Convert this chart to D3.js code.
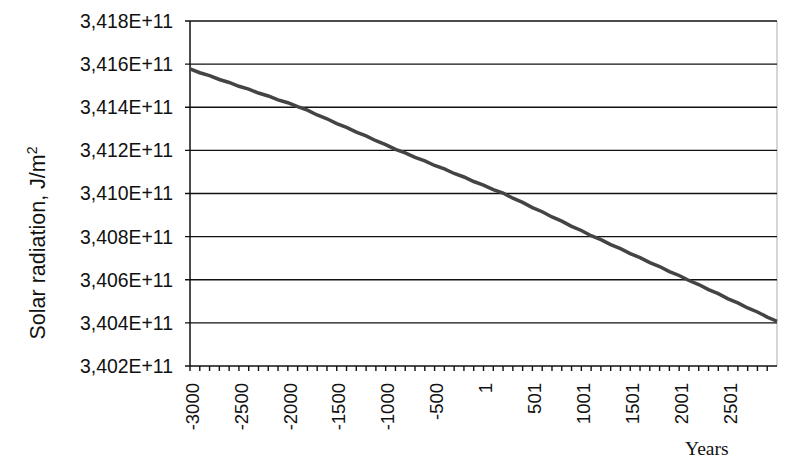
<!DOCTYPE html>
<html>
<head>
<meta charset="utf-8">
<script src="https://cdn.jsdelivr.net/npm/d3@7"></script>
<style>
  html, body { margin: 0; padding: 0; background: #fff; }
  svg { display: block; }
</style>
</head>
<body>
<svg id="chart" width="791" height="461"></svg>
<script>
// Years (category positions) and solar radiation values (units of 1E+11 J/m2)
const years = [
  -3000, -2900, -2800, -2700, -2600, -2500, -2400, -2300, -2200, -2100,
  -2000, -1900, -1800, -1700, -1600, -1500, -1400, -1300, -1200, -1100,
  -1000, -900, -800, -700, -600, -500, -400, -300, -200, -100,
  0, 100, 200, 300, 400, 500, 600, 700, 800, 900,
  1000, 1100, 1200, 1300, 1400, 1500, 1600, 1700, 1800, 1900,
  2000, 2100, 2200, 2300, 2400, 2500, 2600, 2700, 2800, 2900, 3000
];
const radiation = [
  3.415775, 3.415601, 3.415466, 3.415287, 3.415150, 3.414973, 3.414839, 3.414660, 3.414523, 3.414344,
  3.414209, 3.414030, 3.413864, 3.413642, 3.413466, 3.413245, 3.413068, 3.412846, 3.412669, 3.412447,
  3.412270, 3.412049, 3.411882, 3.411672, 3.411509, 3.411300, 3.411138, 3.410929, 3.410766, 3.410556,
  3.410392, 3.410183, 3.410021, 3.409782, 3.409589, 3.409347, 3.409154, 3.408913, 3.408720, 3.408479,
  3.408286, 3.408044, 3.407858, 3.407627, 3.407443, 3.407211, 3.407028, 3.406796, 3.406612, 3.406381,
  3.406197, 3.405965, 3.405777, 3.405541, 3.405353, 3.405117, 3.404929, 3.404693, 3.404506, 3.404270, 3.404075
];
const yTicks = [3.402, 3.404, 3.406, 3.408, 3.410, 3.412, 3.414, 3.416, 3.418];
const xLabelYears = [-3000, -2500, -2000, -1500, -1000, -500, 0, 500, 1000, 1500, 2000, 2500];
const xLabels = ["-3000", "-2500", "-2000", "-1500", "-1000", "-500", "1", "501", "1001", "1501", "2001", "2501"];
const xMinorTicks = years.slice(0, years.length - 1);

const svg = d3.select("#chart");
const W = 791, H = 461;
const L = 190, R = 777, T = 21, B = 366;

svg.append("rect").attr("width", W).attr("height", H).attr("fill", "#fff");

const x = d3.scaleLinear().domain([-3000, 3000]).range([L, R]);
const y = d3.scaleLinear().domain([3.402, 3.418]).range([B, T]);

const sans = "'Liberation Sans', Arial, Helvetica, sans-serif";

// right border (light)
svg.append("line")
  .attr("x1", R).attr("x2", R).attr("y1", T).attr("y2", B)
  .attr("stroke", "#c8c8c8").attr("stroke-width", 1.5);

// gridlines + y ticks
svg.append("g").selectAll("line").data(yTicks).join("line")
  .attr("x1", L - 5).attr("x2", R)
  .attr("y1", d => y(d)).attr("y2", d => y(d))
  .attr("stroke", "#111").attr("stroke-width", 1.4);

// y axis line
svg.append("line")
  .attr("x1", L).attr("x2", L).attr("y1", T).attr("y2", B)
  .attr("stroke", "#111").attr("stroke-width", 1.5);

// x minor ticks
svg.append("g").selectAll("line").data(xMinorTicks).join("line")
  .attr("x1", d => x(d)).attr("x2", d => x(d))
  .attr("y1", B).attr("y2", B + 5)
  .attr("stroke", "#111").attr("stroke-width", 1.4);

// y tick labels
const fmt = v => d3.format(".3f")(v).replace(".", ",") + "E+11";
svg.append("g").selectAll("text").data(yTicks).join("text")
  .attr("x", 173).attr("y", d => y(d)).attr("dy", "0.36em")
  .attr("text-anchor", "end")
  .attr("font-family", sans).attr("font-size", 19.4).attr("fill", "#111")
  .text(d => fmt(d));

// x labels rotated
svg.append("g").selectAll("text").data(xLabelYears).join("text")
  .attr("transform", d => `translate(${x(d) + 2},383) rotate(-90)`)
  .attr("dy", "0.36em")
  .attr("text-anchor", "end")
  .attr("font-family", sans).attr("font-size", 18.5).attr("fill", "#111")
  .text((d, i) => xLabels[i]);

// the line
const line = d3.line().x((d, i) => x(years[i])).y(d => y(d));
svg.append("path")
  .datum(radiation)
  .attr("d", line)
  .attr("fill", "none")
  .attr("stroke", "#444")
  .attr("stroke-width", 3.5)
  .attr("stroke-linejoin", "miter");

// y title
const yt = svg.append("text")
  .attr("transform", "translate(45,243) rotate(-90)")
  .attr("text-anchor", "middle")
  .attr("font-family", sans).attr("font-size", 21.5).attr("fill", "#111");
yt.append("tspan").text("Solar radiation, J/m");
yt.append("tspan").attr("baseline-shift", "super").attr("font-size", 14).text("2");

// x title
svg.append("text")
  .attr("x", 685).attr("y", 455)
  .attr("font-family", "'Liberation Serif', 'Times New Roman', serif")
  .attr("font-size", 19.5).attr("fill", "#111")
  .text("Years");
</script>
</body>
</html>
